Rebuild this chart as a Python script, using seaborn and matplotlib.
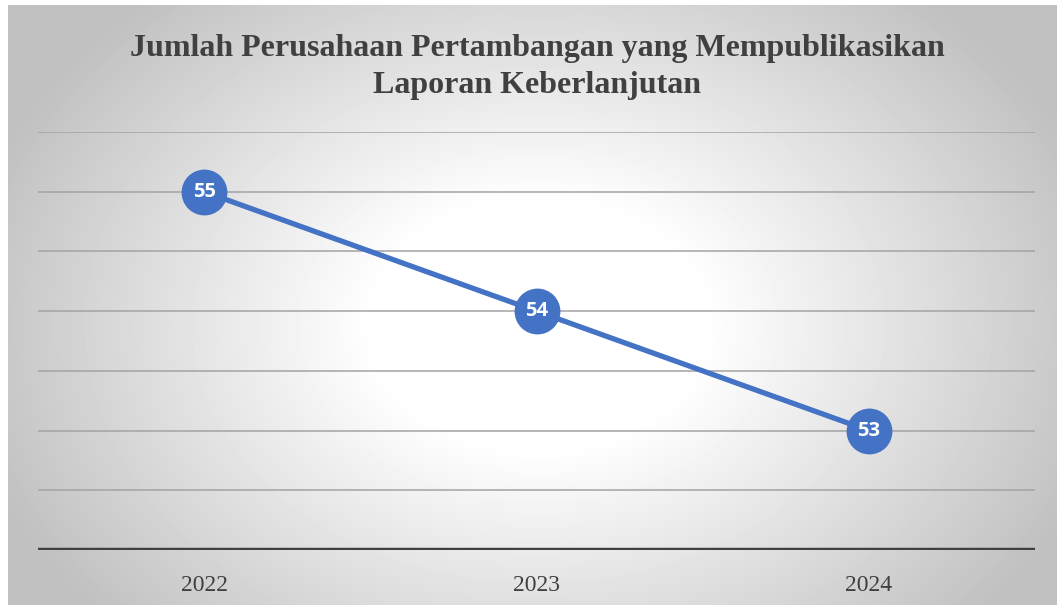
import numpy as np
import pandas as pd
import seaborn as sns
import matplotlib.pyplot as plt

years = ['2022', '2023', '2024']
jumlah = [55, 54, 53]
title = 'Jumlah Perusahaan Pertambangan yang Mempublikasikan\nLaporan Keberlanjutan'

df = pd.DataFrame({'Tahun': years, 'Jumlah': jumlah})

sns.set_style('white')
plt.rcParams['font.family'] = ['Liberation Serif', 'DejaVu Serif']

fig = plt.figure(figsize=(10.57, 6.05), dpi=100)

# radial gradient background (white centre, grey edges)
bg = fig.add_axes([8 / 1057, 0, 1 - 8 / 1057, 600 / 605])
h, w = 600, 1049
yy, xx = np.mgrid[0:h, 0:w]
r = np.sqrt(((xx - 530) / 550.0) ** 2 + ((yy - 320) / 410.0) ** 2)
shade = 1.0 - 0.25 * np.clip((r - 0.3) / 0.78, 0, 1)
bg.imshow(shade, cmap='gray', vmin=0, vmax=1, aspect='auto', interpolation='bilinear')
bg.axis('off')

ax = fig.add_axes([38 / 1057, 55 / 605, (1035 - 38) / 1057, (550 - 132) / 605])
ax.patch.set_alpha(0)

for g in np.arange(52.5, 55.51, 0.5):
    ax.axhline(g, color='#a3a3a3', lw=1.1, zorder=1)
ax.axhline(52, color='#404040', lw=3.2, zorder=2)

sns.lineplot(data=df, x='Tahun', y='Jumlah', ax=ax, color='#4472C4', lw=3.8,
             marker='o', markersize=33, markeredgewidth=0, zorder=3, sort=False)

for i, v in enumerate(jumlah):
    ax.text(i, v, str(v), ha='center', va='center', color='white', fontsize=14.5,
            fontweight='bold', family=['Open Sans', 'DejaVu Sans'], zorder=4)

ax.set_xlim(-0.5, 2.5)
ax.set_ylim(52, 55.5)
ax.set_yticks([])
ax.set_xlabel('')
ax.set_ylabel('')
ax.tick_params(axis='x', length=0, pad=18, labelsize=17, labelcolor='#404040')
sns.despine(ax=ax, left=True, bottom=True)

fig.text(0.508, 1 - 67 / 605, title, ha='center', va='center', fontsize=23,
         fontweight='bold', color='#404040', linespacing=1.4)

fig.savefig('out.png', dpi=100)
